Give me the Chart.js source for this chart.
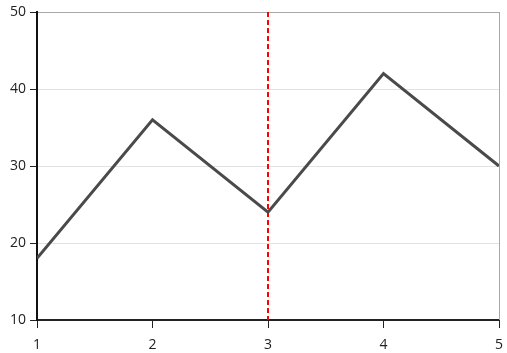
<!DOCTYPE html>
<html>
<head>
<meta charset="utf-8">
<style>
  html, body { margin: 0; padding: 0; background: #fff; }
  #wrap { width: 507px; height: 353px; }
</style>
<script src="https://cdn.jsdelivr.net/npm/chart.js@4/dist/chart.umd.min.js"></script>
</head>
<body>
<div id="wrap"><canvas id="chart" width="507" height="353"></canvas></div>
<script>
// data
const xValues = [1, 2, 3, 4, 5];
const yValues = [18, 36, 24, 42, 30];
const xTicks = [1, 2, 3, 4, 5];
const yTicks = [10, 20, 30, 40, 50];
const markerX = [3];

// right border + red dashed marker line
const extras = {
  id: 'extras',
  beforeDatasetsDraw(chart) {
    const { ctx, chartArea, scales } = chart;
    ctx.save();
    ctx.strokeStyle = '#a8a8a8';
    ctx.lineWidth = 1;
    ctx.beginPath();
    ctx.moveTo(chartArea.right + 0.5, chartArea.top);
    ctx.lineTo(chartArea.right + 0.5, chartArea.bottom);
    ctx.stroke();

    ctx.strokeStyle = '#ff0000';
    ctx.lineWidth = 2;
    ctx.setLineDash([5, 3]);
    markerX.forEach(v => {
      const px = Math.round(scales.x.getPixelForValue(v));
      ctx.beginPath();
      ctx.moveTo(px, chartArea.top);
      ctx.lineTo(px, chartArea.bottom);
      ctx.stroke();
    });
    ctx.restore();
  }
};

const ctx = document.getElementById('chart');
new Chart(ctx, {
  type: 'line',
  data: {
    datasets: [{
      data: xValues.map((x, i) => ({ x: x, y: yValues[i] })),
      borderColor: '#4a4a4a',
      borderWidth: 3,
      pointRadius: 0,
      tension: 0,
      fill: false
    }]
  },
  options: {
    responsive: false,
    animation: false,
    layout: { padding: { top: 12, right: 8, left: 0, bottom: 0 } },
    plugins: { legend: { display: false }, tooltip: { enabled: false } },
    scales: {
      x: {
        type: 'linear',
        min: 1,
        max: 5,
        afterBuildTicks: s => { s.ticks = xTicks.map(v => ({ value: v })); },
        afterFit: s => { s.height = 33; s.paddingLeft = 0; s.paddingRight = 0; },
        grid: {
          drawOnChartArea: false,
          drawTicks: true,
          tickLength: 8,
          tickColor: '#222'
        },
        border: { color: '#222', width: 2 },
        ticks: {
          color: '#222',
          font: { family: 'Open Sans', size: 14 },
          padding: 9,
          maxRotation: 0
        }
      },
      y: {
        min: 10,
        max: 50,
        afterBuildTicks: s => { s.ticks = yTicks.map(v => ({ value: v })); },
        afterFit: s => { s.width = 37; s.paddingTop = 0; s.paddingBottom = 0; },
        grid: {
          color: c => c.tick && c.tick.value === 50 ? '#a8a8a8' : '#e2e2e2',
          drawTicks: true,
          tickLength: 7,
          tickColor: '#222'
        },
        border: { color: '#111', width: 2 },
        ticks: {
          color: '#222',
          font: { family: 'Open Sans', size: 14 },
          padding: 4
        }
      }
    }
  },
  plugins: [extras]
});
</script>
</body>
</html>
